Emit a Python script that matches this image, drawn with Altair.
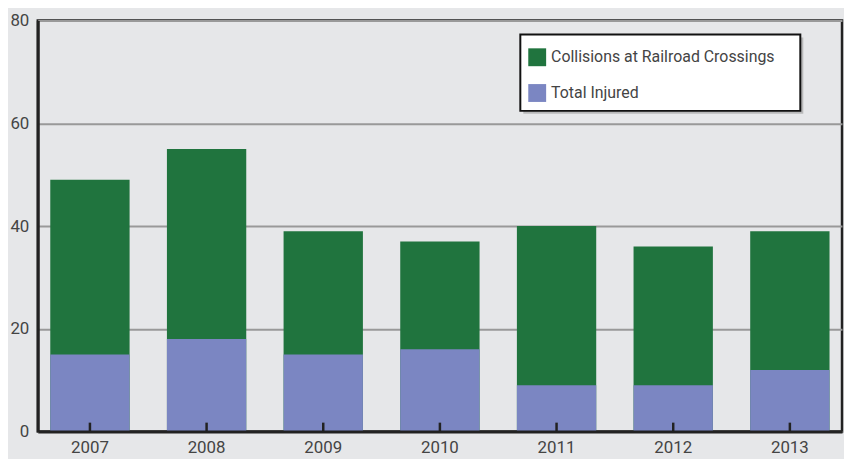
import altair as alt
import pandas as pd

years = ["2007", "2008", "2009", "2010", "2011", "2012", "2013"]
collisions = [49, 55, 39, 37, 40, 36, 39]
injured = [15, 18, 15, 16, 9, 9, 12]
series_names = ["Collisions at Railroad Crossings", "Total Injured"]
series_colors = ["#20743e", "#7b86c2"]
y_ticks = [0, 20, 40, 60, 80]

FONT = "Roboto, Liberation Sans, sans-serif"

rows = []
for y, c in zip(years, collisions):
    rows.append({"year": y, "series": series_names[0], "value": c, "ord": 0})
for y, i in zip(years, injured):
    rows.append({"year": y, "series": series_names[1], "value": i, "ord": 1})
df = pd.DataFrame(rows)

W, H = 810, 414

xscale = alt.Scale(domain=years, paddingInner=0.32, paddingOuter=0.107)

bars = alt.Chart(df).mark_bar().encode(
    x=alt.X("year:N", scale=xscale, sort=years,
            axis=alt.Axis(title=None, labelAngle=0, ticks=False, domain=True,
                          domainColor="#222", domainWidth=3, labelFontSize=17,
                          labelColor="#444", labelFont=FONT, labelPadding=8, zindex=1)),
    y=alt.Y("value:Q", stack=None,
            scale=alt.Scale(domain=[0, 80], nice=False),
            axis=alt.Axis(title=None, values=y_ticks, ticks=False, grid=True,
                          gridColor="#999", gridWidth=2, domainColor="#222",
                          domainWidth=3, labelFontSize=17, labelColor="#444",
                          labelFont=FONT, labelPadding=9)),
    color=alt.Color("series:N",
                    scale=alt.Scale(domain=series_names, range=series_colors),
                    legend=alt.Legend(title=None, orient="none", legendX=482, legendY=16,
                                      padding=12, symbolType="square", symbolSize=324,
                                      symbolStrokeWidth=0, labelFontSize=16, labelColor="#444",
                                      labelFont=FONT, labelOffset=5, rowPadding=18,
                                      labelLimit=0, zindex=3)),
    order=alt.Order("ord:Q"),
)

ticks = alt.Chart(pd.DataFrame({"year": years})).mark_rule(color="#222", strokeWidth=2.5).encode(
    x=alt.X("year:N", scale=xscale, sort=years),
    y=alt.value(H),
    y2=alt.value(H - 9),
)

box_src = alt.Data(values=[{"k": 1}])
shadow = alt.Chart(box_src).mark_rect(fill="#9a9a9a", opacity=0.6).encode(
    x=alt.value(489), x2=alt.value(771), y=alt.value(17), y2=alt.value(94)
)
box = alt.Chart(box_src).mark_rect(fill="white", stroke="#111", strokeWidth=2).encode(
    x=alt.value(486), x2=alt.value(768), y=alt.value(14), y2=alt.value(91)
)

chart = alt.layer(bars, ticks, shadow, box).properties(
    width=W, height=H,
    background="#e6e7e9",
    padding={"left": 30, "top": 11, "right": 2, "bottom": 26},
    autosize=alt.AutoSizeParams(type="none"),
).configure_view(stroke="#222", strokeWidth=2.5, fill="#e6e7e9")

chart.save("out.html", embed_options={"renderer": "svg", "actions": False})
